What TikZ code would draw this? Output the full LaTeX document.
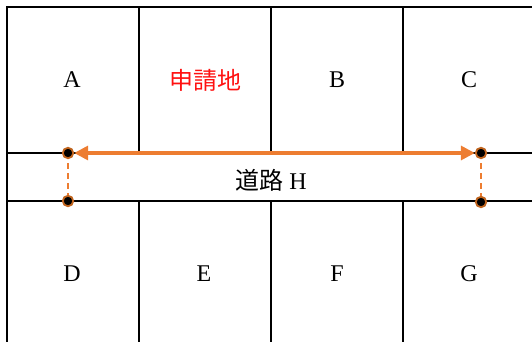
\documentclass[tikz,border=0pt]{standalone}
\usepackage{fontspec}
\setmainfont{Liberation Serif}
\newfontfamily\cjk{Noto Sans CJK JP}
\usetikzlibrary{arrows.meta}
\definecolor{orng}{HTML}{ED7D31}
\definecolor{dotrim}{HTML}{C0641E}
\definecolor{redtxt}{HTML}{FF1010}
\tikzset{
  grid/.style={line width=2pt, black},
  lbl/.style={font=\fontsize{24}{30}\selectfont, inner sep=0pt},
  cjklbl/.style={font=\cjk\fontsize{24}{30}\selectfont, inner sep=0pt},
  pt/.style={circle, fill=black, draw=dotrim, line width=1.8pt, minimum size=10.5pt, inner sep=0pt},
  arr/.style={orng, line width=3.2pt, {Triangle[length=14pt,width=14pt]}-{Triangle[length=14pt,width=14pt]}},
  dsh/.style={orng, line width=1.8pt, dash pattern=on 6pt off 4pt}
}
\begin{document}
\begin{tikzpicture}[x=1pt,y=-1pt]
\useasboundingbox (0,0) rectangle (532,342);
% grid
\draw[grid] (7,345) -- (7,7.5) -- (534,7.5);
\draw[grid] (7,153) -- (534,153);
\draw[grid] (7,201) -- (534,201);
\foreach \x in {139,271,403}{
  \draw[grid] (\x,7.5) -- (\x,153);
  \draw[grid] (\x,201) -- (\x,345);
}
% labels
\node[lbl] (A) at (72,80) {A};
\node[cjklbl, text=redtxt] (S) at (205,80) {申請地};
\node[lbl] (B) at (337,80) {B};
\node[lbl] (C) at (469,80) {C};
\node[lbl] (H) at (271,180) {{\cjk\fontsize{24}{30}\selectfont 道路} H};
\node[lbl] (D) at (72,274) {D};
\node[lbl] (E) at (204,274) {E};
\node[lbl] (F) at (337,274) {F};
\node[lbl] (G) at (469,274) {G};
% dashed
\coordinate (p1) at (68,153);
\coordinate (p2) at (68,201);
\coordinate (p3) at (481,153);
\coordinate (p4) at (481,202);
\draw[dsh] (p1) -- (p2);
\draw[dsh] (p3) -- (p4);
\node[pt] (q1) at (p1) {};
\node[pt] (q2) at (p2) {};
\node[pt] (q3) at (p3) {};
\node[pt] (q4) at (p4) {};
\draw[arr] (q1) -- (q3);
\end{tikzpicture}
\end{document}
